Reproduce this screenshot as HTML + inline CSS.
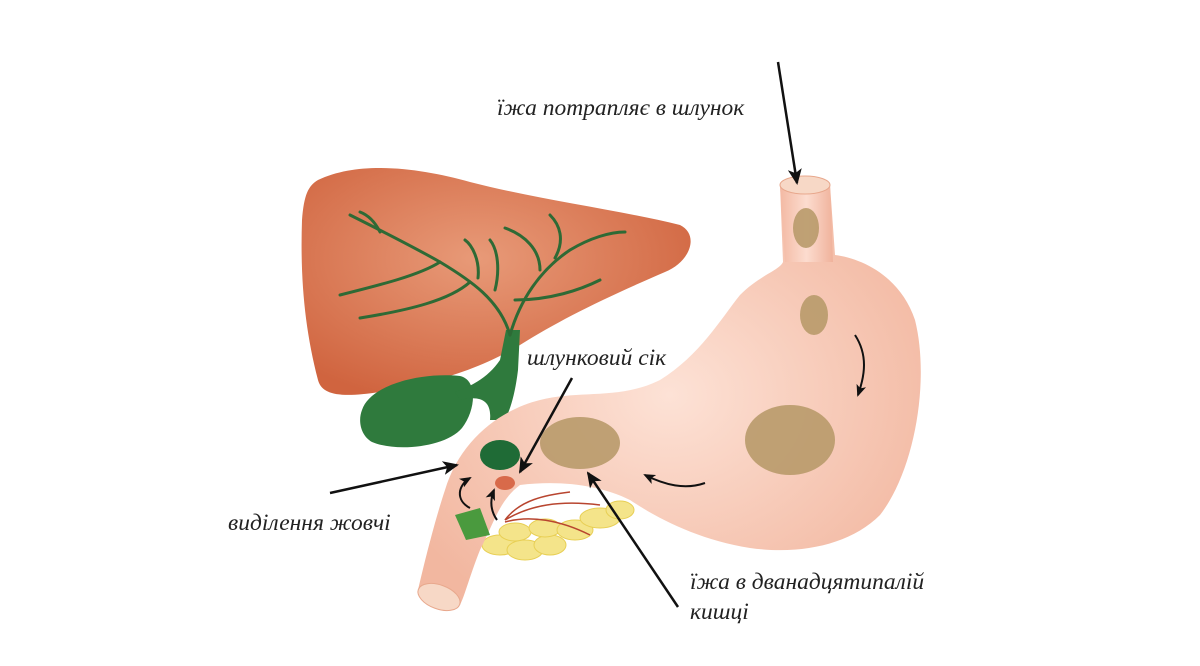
<!DOCTYPE html>
<html><head><meta charset="utf-8"><style>
html,body{margin:0;padding:0;background:#fff;}
svg{display:block}
text{font-family:"Liberation Serif",serif;font-style:italic;font-size:23.5px;fill:#222}
</style></head><body>
<svg width="1200" height="666" viewBox="0 0 1200 666" xmlns="http://www.w3.org/2000/svg">
<defs>
<radialGradient id="liv" cx="0.45" cy="0.4" r="0.65"><stop offset="0" stop-color="#e89a78"/><stop offset="1" stop-color="#d0643f"/></radialGradient>
<radialGradient id="sto" cx="0.5" cy="0.5" r="0.6"><stop offset="0" stop-color="#fde2d6"/><stop offset="1" stop-color="#f2b7a0"/></radialGradient>
<linearGradient id="tube" x1="0" y1="0" x2="1" y2="0"><stop offset="0" stop-color="#f3b9a3"/><stop offset="0.5" stop-color="#fcdccf"/><stop offset="1" stop-color="#f0b29b"/></linearGradient>
<marker id="ah" markerWidth="16" markerHeight="14" refX="14" refY="7" orient="auto" markerUnits="userSpaceOnUse"><path d="M0,0 L16,7 L0,14 L4,7z" fill="#111"/></marker>
<marker id="as" markerWidth="12" markerHeight="10" refX="10" refY="5" orient="auto" markerUnits="userSpaceOnUse"><path d="M0,0 L12,5 L0,10 L3,5z" fill="#111"/></marker>
</defs>
<path d="M318,180 C360,160 420,168 470,182 C540,200 620,210 680,225 C700,235 690,262 665,272 C600,300 560,320 520,345 C470,375 420,385 380,392 C340,398 322,395 318,380 C305,330 300,280 302,220 C304,195 308,186 318,180Z" fill="url(#liv)"/>
<path d="M362,410 C370,385 420,372 460,376 C478,380 476,410 462,428 C445,448 395,452 372,442 C360,435 358,420 362,410Z" fill="#2f7a3d"/>
<path d="M455,392 C475,385 490,375 500,360 L506,330 L520,330 L518,370 C515,395 510,410 505,420 L490,420 C492,400 480,395 460,400Z" fill="#2f7a3d"/>
<g stroke="#2e6a35" stroke-width="3" fill="none" stroke-linecap="round">
<path d="M510,335 C500,300 470,280 440,262 C410,245 380,230 350,215"/>
<path d="M440,262 C420,275 380,285 340,295"/>
<path d="M470,282 C450,300 410,310 360,318"/>
<path d="M510,335 C520,300 540,270 570,250 C590,238 610,232 625,232"/>
<path d="M540,270 C540,250 525,235 505,228"/>
<path d="M555,258 C565,240 560,225 550,215"/>
<path d="M515,300 C550,300 580,290 600,280"/>
<path d="M380,232 C375,222 368,215 360,212"/>
<path d="M478,278 C480,260 472,245 465,240"/>
<path d="M495,290 C500,270 498,250 490,240"/>
</g>
<g fill="#f4e48a" stroke="#e8cf55" stroke-width="1">
<ellipse cx="500" cy="545" rx="18" ry="10"/><ellipse cx="525" cy="550" rx="18" ry="10"/><ellipse cx="550" cy="545" rx="16" ry="10"/>
<ellipse cx="515" cy="532" rx="16" ry="9"/><ellipse cx="545" cy="528" rx="16" ry="9"/><ellipse cx="575" cy="530" rx="18" ry="10"/>
<ellipse cx="600" cy="518" rx="20" ry="10"/><ellipse cx="620" cy="510" rx="14" ry="9"/>
</g>
<path d="M780,185 L830,185 L835,255 C860,258 900,275 915,320 C930,380 915,470 880,515 C850,545 800,555 750,548 C700,540 660,520 630,500 C600,485 560,480 520,485 C500,500 495,520 480,550 C470,575 465,595 460,605 L418,590 C425,560 435,520 445,490 C460,440 500,410 540,400 C580,390 620,400 660,380 C700,355 720,320 740,295 C760,275 780,270 783,262Z" fill="url(#sto)"/>
<path d="M780,185 L830,185 L833,262 L785,262Z" fill="url(#tube)"/>
<ellipse cx="805" cy="185" rx="25" ry="9" fill="#f7d8c6" stroke="#e8a88d"/>
<ellipse cx="439" cy="597" rx="22" ry="12" fill="#f7d8c6" stroke="#e8a88d" transform="rotate(20 439 597)"/>
<g stroke="#b8452f" stroke-width="1.5" fill="none">
<path d="M505,520 C530,505 560,500 600,505"/><path d="M505,522 C530,515 560,520 590,535"/><path d="M505,520 C520,500 545,495 570,492"/>
</g>
<path d="M455,515 L480,508 L490,535 L466,540Z" fill="#4a9a3e"/>
<g fill="#b89a6a" opacity="0.9">
<ellipse cx="806" cy="228" rx="13" ry="20"/>
<ellipse cx="814" cy="315" rx="14" ry="20"/>
<ellipse cx="790" cy="440" rx="45" ry="35"/>
<ellipse cx="580" cy="443" rx="40" ry="26"/>
</g>
<ellipse cx="500" cy="455" rx="20" ry="15" fill="#1f6b36"/>
<ellipse cx="505" cy="483" rx="10" ry="7" fill="#d86a4a"/>
<g stroke="#111" stroke-width="2" fill="none">
<path d="M855,335 C868,355 865,375 858,395" marker-end="url(#as)"/>
<path d="M705,483 C685,490 665,485 645,475" marker-end="url(#as)"/>
<path d="M470,508 C455,500 458,485 470,478" marker-end="url(#as)"/>
<path d="M497,520 C490,510 490,500 494,490" marker-end="url(#as)"/>
</g>
<g stroke="#111" stroke-width="2.5" fill="none">
<line x1="778" y1="62" x2="797" y2="183" marker-end="url(#ah)"/>
<line x1="330" y1="493" x2="457" y2="465" marker-end="url(#ah)"/>
<line x1="572" y1="378" x2="520" y2="472" marker-end="url(#ah)"/>
<line x1="678" y1="607" x2="588" y2="473" marker-end="url(#ah)"/>
</g>
<text x="497" y="115">їжа потрапляє в шлунок</text>
<text x="527" y="365">шлунковий сік</text>
<text x="228" y="530">виділення жовчі</text>
<text x="690" y="589">їжа в дванадцятипалій</text>
<text x="690" y="619">кишці</text>
</svg>
</body></html>
